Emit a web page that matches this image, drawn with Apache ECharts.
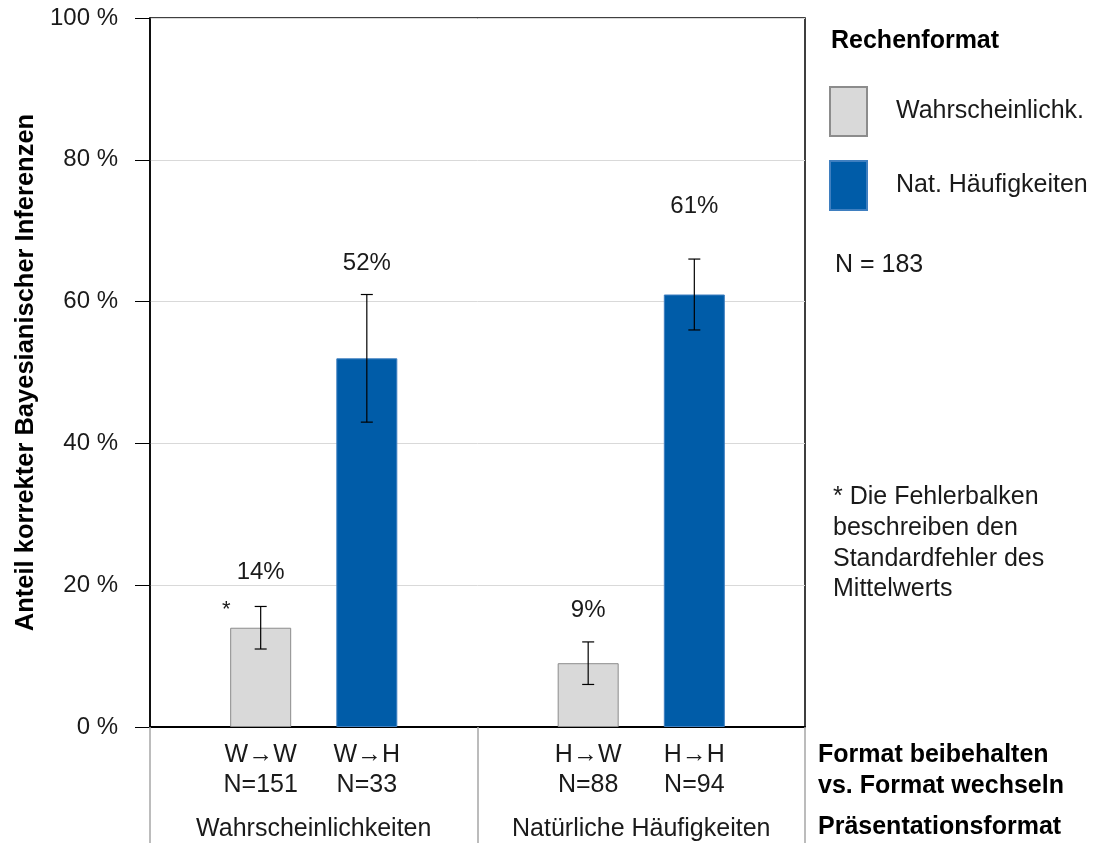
<!DOCTYPE html>
<html>
<head>
<meta charset="utf-8">
<script src="https://cdn.jsdelivr.net/npm/echarts@6/dist/echarts.min.js"></script>
<style>
  html, body { margin: 0; padding: 0; background: #fff; }
  #chart { width: 1096px; height: 843px; }
</style>
</head>
<body>
<div id="chart"></div>
<script>
// Presentation formats (x categories)
const categories = ['Wahrscheinlichkeiten', 'Natürliche Häufigkeiten'];
// Calculation formats (series)
const seriesNames = ['Wahrscheinlichk.', 'Nat. Häufigkeiten'];
// Share of correct Bayesian inferences (%) and standard errors
const probValues = [14, 9];
const probErrors = [3, 3];
const freqValues = [52, 61];
const freqErrors = [9, 5];
// Format kept vs. switched, with group sizes
const probGroups = ['W→W', 'H→W'];
const probN = [151, 88];
const freqGroups = ['W→H', 'H→H'];
const freqN = [33, 94];
const probNotes = ['*', ''];
const freqNotes = ['', ''];
// y axis ticks
const yMin = 0, yMax = 100, yStep = 20;

const FONT = '"Liberation Sans", Arial, sans-serif';
const BAR_W = 61;
const BAR_GAP = 0.74;
const GRAY = '#d9d9d9';
const BLUE = '#005ca8';
// vertical distance (px) between error-bar cap and value label
const labelRaise = [[34, 32], [31, 53]];

const items = [];
[[probValues, probErrors, probGroups, probN, probNotes],
 [freqValues, freqErrors, freqGroups, freqN, freqNotes]].forEach((s, si) => {
  s[0].forEach((v, ci) => {
    items.push({ s: si, cat: ci, value: v, err: s[1][ci], code: s[2][ci], n: s[3][ci], note: s[4][ci] });
  });
});

function renderItem(params, api) {
  const it = items[params.dataIndex];
  const base = api.coord([it.cat, 0]);
  const off = (BAR_W + BAR_W * BAR_GAP) / 2 * (it.s === 0 ? -1 : 1);
  const x = base[0] + off;
  const yTop = api.coord([it.cat, it.value + it.err])[1];
  const yBot = api.coord([it.cat, it.value - it.err])[1];
  const ls = { stroke: '#000', lineWidth: 1.2 };
  const children = [
    { type: 'line', shape: { x1: x, y1: yTop, x2: x, y2: yBot }, style: ls },
    { type: 'line', shape: { x1: x - 6, y1: yTop, x2: x + 6, y2: yTop }, style: ls },
    { type: 'line', shape: { x1: x - 6, y1: yBot, x2: x + 6, y2: yBot }, style: ls },
    { type: 'text', style: { text: it.value + '%', x: x, y: yTop - labelRaise[it.s][it.cat],
        textAlign: 'center', textVerticalAlign: 'middle', font: '24px ' + FONT, fill: '#1a1a1a' } },
    { type: 'text', style: { text: it.code + '\nN=' + it.n, x: x, y: base[1] + 43,
        textAlign: 'center', textVerticalAlign: 'middle', lineHeight: 30, font: '25px ' + FONT, fill: '#1a1a1a' } }
  ];
  if (it.note) {
    children.push({ type: 'text', style: { text: it.note, x: x - BAR_W / 2 - 4, y: yTop + 3,
      textAlign: 'center', textVerticalAlign: 'middle', font: '22px ' + FONT, fill: '#1a1a1a' } });
  }
  return { type: 'group', children: children };
}

const chart = echarts.init(document.getElementById('chart'), null, { renderer: 'canvas' });
chart.setOption({
  animation: false,
  backgroundColor: '#fff',
  textStyle: { fontFamily: FONT },
  grid: { left: 150, right: 291, top: 18, bottom: 116, show: true, borderColor: '#000', borderWidth: 1.5,
          containLabel: false, outerBoundsMode: 'none' },
  legend: {
    data: seriesNames,
    orient: 'vertical',
    left: 829, top: 86,
    itemWidth: 37, itemHeight: 49, itemGap: 23,
    icon: 'rect',
    padding: 0,
    textStyle: { fontSize: 25, color: '#1a1a1a', fontFamily: FONT, padding: [0, 0, 0, 24] },
    selectedMode: false
  },
  xAxis: {
    type: 'category',
    data: categories,
    axisLine: { lineStyle: { color: '#000', width: 2 } },
    axisTick: { show: true, length: 120, interval: 0, lineStyle: { color: '#a6a6a6', width: 1.5 } },
    axisLabel: { margin: 90, fontSize: 25, lineHeight: 25, color: '#1a1a1a', interval: 0, fontFamily: FONT },
    splitLine: { show: false }
  },
  yAxis: {
    type: 'value',
    min: yMin, max: yMax, interval: yStep,
    name: 'Anteil korrekter Bayesianischer Inferenzen',
    nameLocation: 'middle',
    nameGap: 110,
    nameTextStyle: { fontSize: 25.5, fontWeight: 'bold', color: '#000', fontFamily: FONT },
    axisLine: { show: true, lineStyle: { color: '#000', width: 1.5 } },
    axisTick: { show: true, inside: false, length: 15, lineStyle: { color: '#000', width: 1 } },
    axisLabel: { margin: 32, fontSize: 24, color: '#1a1a1a', formatter: '{value} %', fontFamily: FONT },
    splitLine: { show: true, lineStyle: { color: '#d9d9d9', width: 1 } }
  },
  series: [
    { name: seriesNames[0], type: 'bar', data: probValues, barWidth: BAR_W, barGap: (BAR_GAP * 100) + '%',
      itemStyle: { color: GRAY, borderColor: '#8c8c8c', borderWidth: 1 } },
    { name: seriesNames[1], type: 'bar', data: freqValues, barWidth: BAR_W,
      itemStyle: { color: BLUE, borderColor: '#3f7fc0', borderWidth: 1 } },
    { name: 'err', type: 'custom', renderItem: renderItem, clip: false, z: 5,
      encode: { x: 0, y: 1 },
      data: items.map(it => [it.cat, it.value]) }
  ],
  graphic: [
    { type: 'text', left: 831, top: 29, style: { text: 'Rechenformat', font: 'bold 25px ' + FONT, fill: '#000' } },
    { type: 'text', left: 835, top: 253, style: { text: 'N = 183', font: '25px ' + FONT, fill: '#1a1a1a' } },
    { type: 'text', left: 833, top: 482, style: {
        text: '* Die Fehlerbalken\nbeschreiben den\nStandardfehler des\nMittelwerts',
        font: '25px ' + FONT, lineHeight: 30.7, fill: '#1a1a1a' } },
    { type: 'text', left: 818, top: 740, style: {
        text: 'Format beibehalten\nvs. Format wechseln', font: 'bold 25px ' + FONT, lineHeight: 31, fill: '#000' } },
    { type: 'text', left: 818, top: 815, style: { text: 'Präsentationsformat', font: 'bold 25px ' + FONT, fill: '#000' } }
  ]
});
</script>
</body>
</html>
